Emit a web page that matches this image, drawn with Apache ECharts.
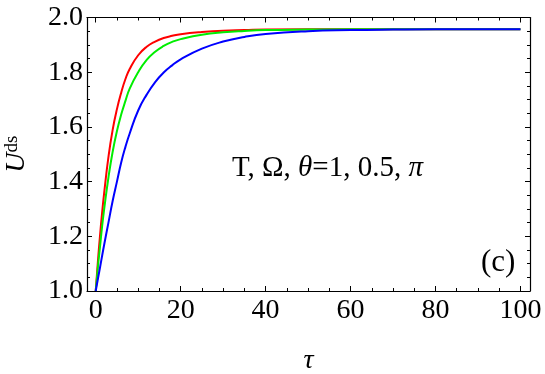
<!DOCTYPE html>
<html>
<head>
<meta charset="utf-8">
<script src="https://cdn.jsdelivr.net/npm/echarts@6/dist/echarts.min.js"></script>
<style>
  html, body { margin: 0; padding: 0; background: #fff; }
  #chart { width: 545px; height: 374px; }
</style>
</head>
<body>
<div id="chart"></div>
<script>
// tau values and the three curves (red, green, blue)
const tau = [0, 0.5, 1, 1.5, 2, 3, 4, 5, 6, 7, 8, 10, 12, 14, 16, 18, 20, 25, 30, 35, 40, 50, 60, 70, 80, 90, 100]
const uRed = [1.0, 1.105, 1.20, 1.285, 1.36, 1.49, 1.59, 1.665, 1.725, 1.775, 1.812, 1.862, 1.893, 1.912, 1.925, 1.933, 1.939, 1.947, 1.952, 1.954, 1.956, 1.957, 1.957, 1.957, 1.957, 1.957, 1.957]
const uGreen = [1.0, 1.085, 1.16, 1.235, 1.30, 1.415, 1.51, 1.585, 1.645, 1.695, 1.74, 1.80, 1.845, 1.875, 1.896, 1.911, 1.921, 1.937, 1.946, 1.951, 1.954, 1.956, 1.957, 1.957, 1.957, 1.957, 1.957]
const uBlue = [1.0, 1.043, 1.085, 1.128, 1.17, 1.25, 1.33, 1.40, 1.47, 1.527, 1.576, 1.66, 1.718, 1.764, 1.799, 1.825, 1.847, 1.886, 1.912, 1.929, 1.940, 1.950, 1.954, 1.956, 1.957, 1.957, 1.957]
// axis ticks
const xMajor = [0, 20, 40, 60, 80, 100]
const xMinor = [5, 10, 15, 25, 30, 35, 45, 50, 55, 65, 70, 75, 85, 90, 95]

const serif = 'Liberation Serif'
const pairs = (ys) => tau.map((t, i) => [t, ys[i]])

// one x axis = frame side + ticks
function xAx(pos, vals, len, labels, line) {
  return {
    type: 'value', position: pos, min: -2.05, max: 102.25,
    axisLine: { show: line, onZero: false, lineStyle: { color: '#000', width: 1.2 } },
    axisTick: { show: true, inside: true, length: len, customValues: vals, lineStyle: { color: '#000', width: 1 } },
    axisLabel: labels ? { customValues: xMajor, fontFamily: serif, fontSize: 28, color: '#000', margin: 6 } : { show: false },
    splitLine: { show: false }
  }
}
function yAx(pos, labels) {
  return {
    type: 'value', position: pos, min: 1, max: 2, interval: 0.2,
    axisLine: { show: true, onZero: false, lineStyle: { color: '#000', width: 1.2 } },
    axisTick: { show: true, inside: true, length: 5, lineStyle: { color: '#000', width: 1 } },
    minorTick: { show: true, splitNumber: 4, length: 3, lineStyle: { color: '#000', width: 1 } },
    axisLabel: labels ? { fontFamily: serif, fontSize: 28, color: '#000', margin: 4, formatter: (v) => v.toFixed(1) } : { show: false },
    splitLine: { show: false }, minorSplitLine: { show: false }
  }
}

const chart = echarts.init(document.getElementById('chart'))
const xs = [xAx('bottom', xMajor, 5, true, true), xAx('bottom', xMinor, 3, false, false),
  xAx('top', xMajor, 5, false, true), xAx('top', xMinor, 3, false, false)]
xs[0].name = 'τ'
xs[0].nameLocation = 'middle'
xs[0].nameGap = 56
xs[0].nameTextStyle = { fontFamily: serif, fontStyle: 'italic', fontSize: 28, color: '#000' }
const ys = [yAx('left', true), yAx('right', false)]
ys[0].name = '{u|U}{s|ds}'
ys[0].nameLocation = 'middle'
ys[0].nameGap = 56
ys[0].nameRotate = 90
ys[0].nameTextStyle = {
  rich: {
    u: { fontFamily: serif, fontStyle: 'italic', fontSize: 28, color: '#000', verticalAlign: 'bottom' },
    s: { fontFamily: serif, fontSize: 19, color: '#000', verticalAlign: 'top' }
  }
}

const line = (ys, c) => ({ type: 'line', data: pairs(ys), color: c, lineStyle: { width: 2 }, showSymbol: false, smooth: 0.5 })

chart.setOption({
  animation: false,
  grid: { left: 87, right: 15, top: 17.5, bottom: 83, outerBoundsMode: 'none' },
  xAxis: xs,
  yAxis: ys,
  series: [line(uRed, '#ff0000'), line(uGreen, '#00ee00'), line(uBlue, '#0000ff')],
  graphic: [
    {
      type: 'text', left: 232, top: 154,
      style: {
        text: '{r|T, Ω, }{i|θ}{r|=1, 0.5, }{i|π}',
        rich: {
          r: { fontFamily: serif, fontSize: 29, fill: '#000' },
          i: { fontFamily: serif, fontSize: 29, fontStyle: 'italic', fill: '#000' }
        }
      }
    },
    { type: 'text', left: 481, top: 247, style: { text: '(c)', fontFamily: serif, fontSize: 31, fill: '#000' } }
  ]
})
</script>
</body>
</html>
